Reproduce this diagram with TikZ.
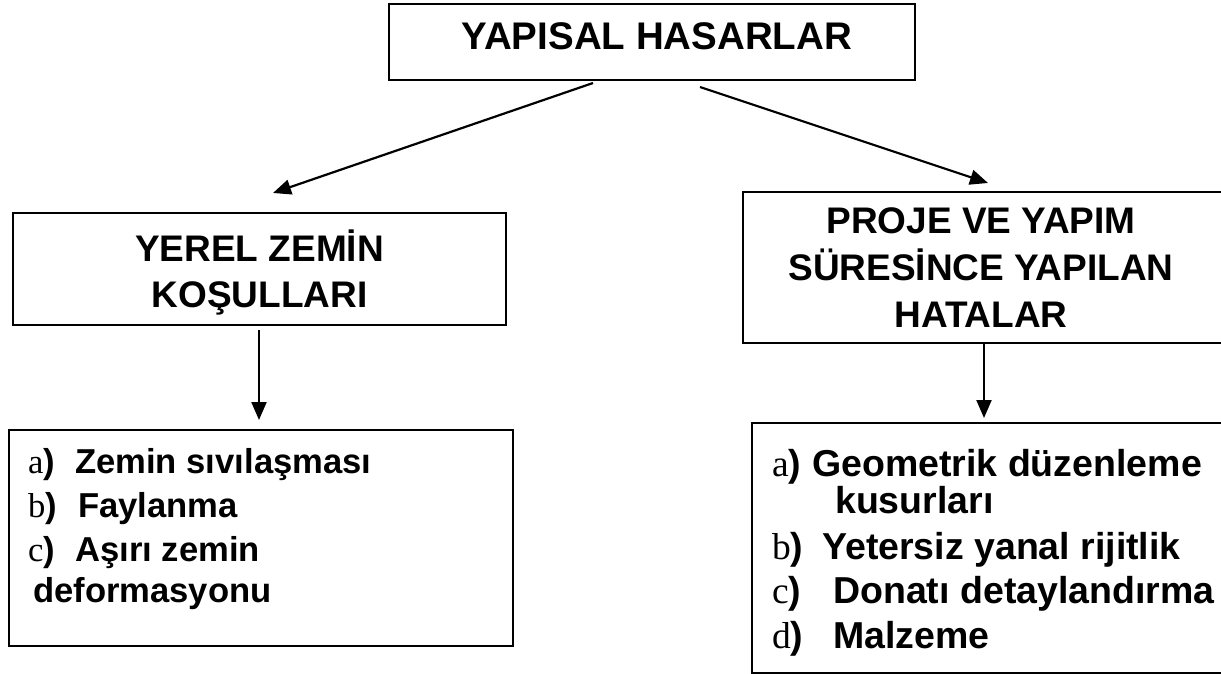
\documentclass[tikz,border=0pt]{standalone}
\usepackage{fontspec}
\setmainfont{Liberation Sans}
\newfontfamily\tnr{Liberation Serif}
\usetikzlibrary{arrows.meta}
\newcommand{\lbmark}[2]{\makebox[#2][l]{{\tnr\mdseries #1}\textbf{)}}}
\begin{document}
\begin{tikzpicture}[x=1pt,y=-1pt,
  box/.style={draw, line width=2pt, inner sep=0pt, fill=white},
  ttl/.style={anchor=base, inner sep=0pt, font=\fontsize{37}{44}\selectfont\bfseries},
  ttltop/.style={anchor=base, inner sep=0pt, font=\fontsize{38.5}{44}\selectfont\bfseries},
  itemL/.style={anchor=base west, inner sep=0pt, font=\fontsize{34.6}{43}\selectfont\bfseries},
  itemR/.style={anchor=base west, inner sep=0pt, font=\fontsize{37.5}{44}\selectfont\bfseries},
  arr/.style={line width=2.2pt, -{Triangle[width=15pt,length=18pt]}}]
\useasboundingbox (0,0) rectangle (1221,674);
\fill[white] (0,0) rectangle (1221,674);

% top box
\node[box, minimum width=526pt, minimum height=76pt] (top) at (652,42) {};
\node[ttltop] (topt) at (657,50) {YAPISAL HASARLAR};

% left middle box
\node[box, minimum width=493pt, minimum height=112pt] (yz) at (259.5,269) {};
\node[ttl] (yz1) at (259.5,261) {YEREL ZEMİN};
\node[ttl] (yz2) at (259.5,307) {KOŞULLARI};

% right middle box
\node[box, minimum width=480pt, minimum height=151pt] (pv) at (983,267.5) {};
\node[ttl] (pv1) at (981,233) {PROJE VE YAPIM};
\node[ttl] (pv2) at (981,280) {SÜRESİNCE YAPILAN};
\node[ttl] (pv3) at (981,327) {HATALAR};

% left bottom box
\node[box, minimum width=504pt, minimum height=216pt] (ll) at (261,538) {};
\node[itemL] (la) at (28,473) {\lbmark{a}{47pt}Zemin sıvılaşması};
\node[itemL] (lb) at (28,517) {\lbmark{b}{50pt}Faylanma};
\node[itemL] (lc) at (28,561) {\lbmark{c}{47pt}Aşırı zemin};
\node[itemL] (ld) at (33,602) {deformasyonu};

% right bottom box
\node[box, minimum width=471pt, minimum height=250pt] (rl) at (987.5,548) {};
\node[itemR] (ra) at (772,476) {\lbmark{a}{40pt}Geometrik düzenleme};
\node[itemR] (ra2) at (835,513) {kusurları};
\node[itemR] (rb) at (772,559) {\lbmark{b}{50pt}Yetersiz yanal rijitlik};
\node[itemR] (rc) at (772,603) {\lbmark{c}{61pt}Donatı detaylandırma};
\node[itemR] (rd) at (772,648) {\lbmark{d}{61pt}Malzeme};

% connectors
\coordinate (a1s) at (593,83);
\coordinate (a1e) at (273,193);
\coordinate (a2s) at (700,87);
\coordinate (a2e) at (988,183);
\coordinate (a3s) at (259,330);
\coordinate (a3e) at (259,420);
\coordinate (a4s) at (984,343);
\coordinate (a4e) at (984,418);
\draw[arr] (a1s) -- (a1e);
\draw[arr] (a2s) -- (a2e);
\draw[arr] (a3s) -- (a3e);
\draw[arr] (a4s) -- (a4e);
\end{tikzpicture}
\end{document}
